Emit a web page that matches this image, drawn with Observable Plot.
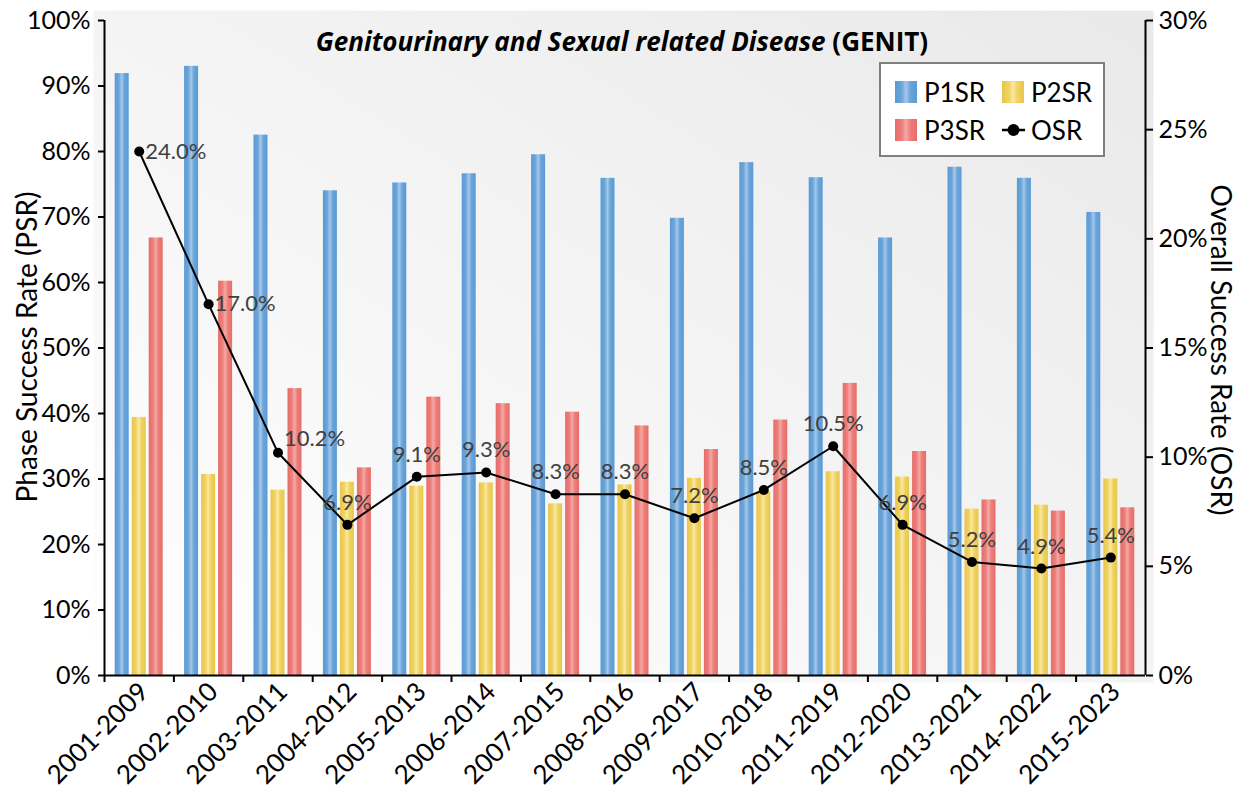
<!DOCTYPE html>
<html><head><meta charset="utf-8">
<script src="https://cdn.jsdelivr.net/npm/d3@7"></script>
<script src="https://cdn.jsdelivr.net/npm/@observablehq/plot@0.6"></script>
<style>body{margin:0;background:#fff;} #chart{width:1244px;height:796px;}</style>
</head><body><div id="chart"></div>
<script>
const categories = ["2001-2009","2002-2010","2003-2011","2004-2012","2005-2013","2006-2014","2007-2015","2008-2016","2009-2017","2010-2018","2011-2019","2012-2020","2013-2021","2014-2022","2015-2023"];
const p1sr = [91.9, 93.0, 82.5, 74.0, 75.2, 76.6, 79.5, 75.9, 69.8, 78.3, 76.0, 66.8, 77.6, 75.9, 70.7];
const p2sr = [39.4, 30.7, 28.3, 29.5, 28.9, 29.4, 26.2, 29.1, 30.1, 28.0, 31.1, 30.3, 25.4, 26.0, 30.0];
const p3sr = [66.8, 60.2, 43.8, 31.7, 42.5, 41.5, 40.2, 38.1, 34.5, 39.0, 44.6, 34.2, 26.8, 25.1, 25.6];
const osr  = [24.0, 17.0, 10.2, 6.9, 9.1, 9.3, 8.3, 8.3, 7.2, 8.5, 10.5, 6.9, 5.2, 4.9, 5.4];
const psrTicks = [0,10,20,30,40,50,60,70,80,90,100];
const osrTicks = [0,5,10,15,20,25,30];
const seriesNames = ["P1SR","P2SR","P3SR","OSR"];

const W = 1244, H = 796, ML = 104, MR = 99, MT = 20, MB = 121;
const bw = (W - ML - MR) / categories.length;
const c = bw / 2;
const OSR_MAX = 30;
const toLeft = v => v * 100 / OSR_MAX;
const table = categories.map((cat, i) => ({cat, i, p1: p1sr[i], p2: p2sr[i], p3: p3sr[i], osr: osr[i]}));
const FONT = "Lato, 'Open Sans', sans-serif";

const plot = Plot.plot({
  width: W, height: H,
  marginLeft: ML, marginRight: MR, marginTop: MT, marginBottom: MB,
  style: {fontFamily: FONT, color: "#000", background: "transparent", overflow: "visible"},
  x: {type: "band", domain: categories, padding: 0, round: false, label: null},
  y: {domain: [0, 100], label: null},
  marks: [
    Plot.frame({fill: "url(#bgGrad)", stroke: "none", insetLeft: -11, insetRight: -8, insetTop: -10, insetBottom: -7}),
    Plot.barY(table, {x: "cat", y: "p1", fill: "url(#gBlue)", insetLeft: c - 24, insetRight: c + 10}),
    Plot.barY(table, {x: "cat", y: "p2", fill: "url(#gYellow)", insetLeft: c - 7, insetRight: c - 7}),
    Plot.barY(table, {x: "cat", y: "p3", fill: "url(#gRed)", insetLeft: c + 10, insetRight: c - 24}),
    Plot.ruleY([0], {strokeWidth: 2}),
    Plot.ruleX([categories[0]], {dx: -c, strokeWidth: 2}),
    Plot.ruleX([categories[categories.length - 1]], {dx: c, strokeWidth: 2}),
    Plot.axisY({anchor: "left", ticks: psrTicks, tickFormat: d => d + "%", tickSize: 6, tickPadding: 8, strokeWidth: 2, fontSize: 25, label: null}),
    Plot.axisY({anchor: "right", ticks: osrTicks.map(toLeft), tickFormat: d => Math.round(d * OSR_MAX / 100) + "%", tickSize: 7, tickPadding: 6, strokeWidth: 2, fontSize: 25, label: null}),
    Plot.axisX({ticks: categories, tickSize: 7, dx: -c, strokeWidth: 2, tickFormat: () => "", label: null}),
    Plot.axisX({ticks: categories, tickSize: 0, tickRotate: -45, tickPadding: 12, dx: 5, fontSize: 26, label: null}),
    Plot.line(table, {x: "cat", y: d => toLeft(d.osr), stroke: "#000", strokeWidth: 2}),
    Plot.dot(table, {x: "cat", y: d => toLeft(d.osr), r: 5, fill: "#000"}),
    Plot.text(table.filter(d => d.i < 2), {x: "cat", y: d => toLeft(d.osr), text: d => d.osr.toFixed(1) + "%", textAnchor: "start", dx: 6, fill: "#404040", fontSize: 22}),
    Plot.text(table.filter(d => d.i === 2), {x: "cat", y: d => toLeft(d.osr), text: d => d.osr.toFixed(1) + "%", textAnchor: "start", dx: 6, dy: -14, fill: "#404040", fontSize: 22}),
    Plot.text(table.filter(d => d.i > 2), {x: "cat", y: d => toLeft(d.osr), text: d => d.osr.toFixed(1) + "%", dy: -22, fill: "#404040", fontSize: 22})
  ]
});

const svg = d3.select(plot);
const defs = svg.insert("defs", ":first-child");
function hgrad(id, edge, mid, center) {
  const g = defs.append("linearGradient").attr("id", id).attr("x1", 0).attr("x2", 1).attr("y1", 0).attr("y2", 0);
  [[0, edge], [0.3, mid], [0.5, center], [0.7, mid], [1, edge]].forEach(([o, col]) => g.append("stop").attr("offset", o).attr("stop-color", col));
}
hgrad("gBlue", "#5a9ad4", "#6aa5da", "#a6c7ea");
hgrad("gYellow", "#e9c64c", "#efd260", "#fbe8a2");
hgrad("gRed", "#e86d69", "#ec7d79", "#f5a9a6");
const bg = defs.append("linearGradient").attr("id", "bgGrad").attr("x1", 0).attr("y1", 1).attr("x2", 1).attr("y2", 0);
bg.append("stop").attr("offset", 0).attr("stop-color", "#ffffff");
bg.append("stop").attr("offset", 1).attr("stop-color", "#e9e9e9");

// Title
const title = svg.append("text").attr("x", 622).attr("y", 51).attr("text-anchor", "middle")
  .attr("font-family", "'Open Sans', Lato, sans-serif").attr("font-size", 26).attr("font-weight", "bold").attr("fill", "#000");
title.append("tspan").attr("font-style", "italic").text("Genitourinary and Sexual related Disease");
title.append("tspan").text(" (GENIT)");

// Axis titles
svg.append("text").attr("transform", "translate(37,347) rotate(-90)").attr("text-anchor", "middle")
  .attr("font-family", FONT).attr("font-size", 28).attr("fill", "#000").text("Phase Success Rate (PSR)");
svg.append("text").attr("transform", "translate(1211,350) rotate(90)").attr("text-anchor", "middle")
  .attr("font-family", FONT).attr("font-size", 28).attr("fill", "#000").text("Overall Success Rate (OSR)");

// Legend
const lg = svg.append("g").attr("font-family", FONT).attr("font-size", 26).attr("text-anchor", "start");
lg.append("rect").attr("x", 880).attr("y", 63).attr("width", 224).attr("height", 93).attr("fill", "#fff").attr("stroke", "#7f7f7f").attr("stroke-width", 2);
const swatch = [["gBlue", 895, 81], ["gYellow", 1002, 81], ["gRed", 895, 119]];
swatch.forEach(([g, x, y], k) => {
  lg.append("rect").attr("x", x).attr("y", y).attr("width", 22).attr("height", 22).attr("fill", `url(#${g})`);
  lg.append("text").attr("x", x + 29).attr("y", y + 21).attr("text-anchor", "start").text(seriesNames[k]);
});
lg.append("line").attr("x1", 1002).attr("x2", 1025).attr("y1", 130).attr("y2", 130).attr("stroke", "#000").attr("stroke-width", 2.5);
lg.append("circle").attr("cx", 1013.5).attr("cy", 130).attr("r", 6).attr("fill", "#000");
lg.append("text").attr("x", 1031).attr("y", 140).attr("text-anchor", "start").text(seriesNames[3]);

document.getElementById("chart").appendChild(plot);
</script>
</body></html>
